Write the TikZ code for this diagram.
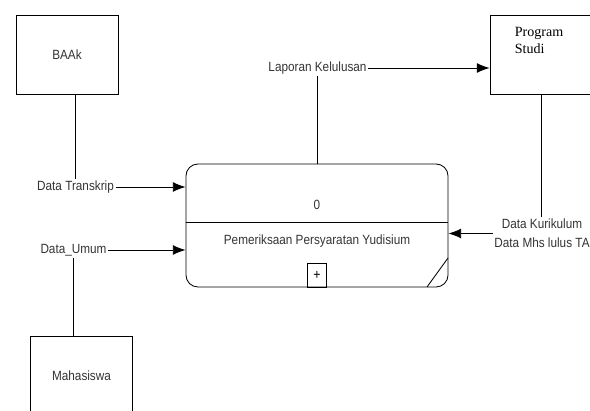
\documentclass[tikz,border=0pt]{standalone}
\usepackage{fontspec}
\usetikzlibrary{arrows.meta}
\newfontfamily\lblfont[FakeStretch=0.88]{Liberation Sans}
\newfontfamily\prodifont{Liberation Serif}
\begin{document}
\begin{tikzpicture}[x=0.025cm, y=-0.025cm,
    entity/.style={draw, line width=0.6pt, minimum width=2.55cm, minimum height=1.975cm, inner sep=0pt, font=\fontsize{9.5}{11}\lblfont, text=black!80},
    flowlbl/.style={inner sep=1pt, font=\fontsize{9.5}{13.5}\lblfont, text=black!80},
    flow/.style={line width=0.6pt},
    flowarr/.style={flow, -{Latex[length=9pt,width=7pt]}}]
        % basics
        \useasboundingbox (0,0) rectangle (590,411);
        
        % external entities
        \node[entity] (baak) at (67,54.5) {BAAk};
        \node[entity, label={[anchor=north west, align=left, inner sep=0pt, xshift=0.625cm, yshift=-0.3cm, font=\fontsize{10}{12}\prodifont, text=black]north west:Program\\Studi}] (prodi) at (541,55) {};
        \node[entity] (mhs) at (81.5,375.5) {Mahasiswa};
        
        % process 0
        \node[draw, line width=0.6pt, rounded corners=0.3cm, minimum width=6.55cm, minimum height=3.075cm] (proc) at (317,225.5) {};
        \draw[line width=0.6pt] (proc.west |- 0,222) -- (proc.east |- 0,222);
        \node[flowlbl] (procnum) at (317,205) {0};
        \node[flowlbl] (proctitle) at (317,241) {Pemeriksaan Persyaratan Yudisium};
        \node[draw, line width=0.6pt, anchor=south, minimum width=0.475cm, minimum height=0.6cm, inner sep=0pt, font=\fontsize{10}{12}\lblfont] (plus) at (proc.south) {+};
        \draw[line width=0.6pt] (427,287) -- (448,258); % corner mark
        
        % flow labels
        \node[flowlbl] (transkrip) at (75.5,187) {Data Transkrip};
        \node[flowlbl] (umum) at (73.5,250) {Data\_Umum};
        \node[flowlbl] (laporan) at (317.5,68) {Laporan Kelulusan};
        \node[flowlbl, align=center] (kurikulum) at (542,233.5) {Data Kurikulum\\Data Mhs lulus TA};
        
        % flows
        %% BAAk -> process
        \draw[flow] (baak.south -| transkrip.north) -- (transkrip.north);
        \draw[flowarr] (transkrip.east) -- (transkrip.east -| proc.west);
        %% Mahasiswa -> process
        \draw[flow] (umum.south) -- (umum.south |- mhs.north);
        \draw[flowarr] (umum.east) -- (umum.east -| proc.west);
        %% process -> Program Studi
        \draw[flow] (laporan.south) -- (laporan.south |- proc.north);
        \draw[flowarr] (laporan.east) -- (laporan.east -| prodi.west);
        %% Program Studi -> process
        \draw[flow] (prodi.south) -- (prodi.south |- kurikulum.north);
        \draw[flowarr] (kurikulum.west) -- (kurikulum.west -| proc.east);
        
    \end{tikzpicture}
\end{document}
